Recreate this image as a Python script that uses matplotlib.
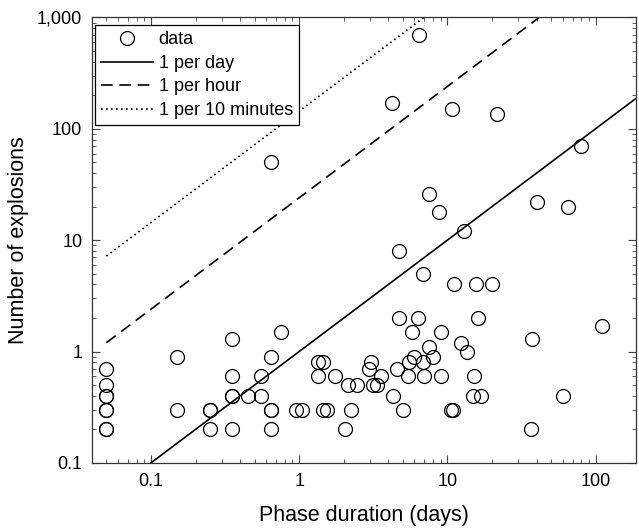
import matplotlib
matplotlib.use("Agg")
import matplotlib.pyplot as plt
import numpy as np
from matplotlib.ticker import FixedLocator, FixedFormatter, LogLocator, NullFormatter

plt.rcParams['font.family'] = ['Liberation Sans', 'DejaVu Sans']

# phase duration (days) and number of explosions
duration = [0.05, 0.05, 0.05, 0.05, 0.05, 0.05, 0.05, 0.05,
            0.15, 0.15,
            0.25, 0.25, 0.25,
            0.35, 0.35, 0.35, 0.35, 0.35,
            0.45,
            0.55, 0.55,
            0.65, 0.65, 0.65, 0.65, 0.65,
            0.75,
            0.95, 1.05,
            1.35, 1.45, 1.35, 1.75,
            1.45, 1.55,
            2.05,
            2.15, 2.45,
            2.25,
            3.05, 2.95,
            3.15, 3.35,
            3.55,
            4.3,
            4.55,
            5.05,
            4.75, 6.3,
            5.75,
            5.5, 5.95, 5.45,
            6.8, 7.0,
            7.55,
            8.05,
            9.0, 9.0,
            7.5, 8.8, 12.9, 4.7, 6.8,
            11.1, 15.6, 20.0,
            16.0,
            12.4, 13.5,
            15.2,
            14.8, 16.8,
            60.6,
            10.6, 11.0,
            36.7, 37.3,
            110,
            40.5, 65.5,
            6.4, 4.24, 10.7, 21.8, 80.4]
explosions = [0.7, 0.5, 0.4, 0.4, 0.3, 0.3, 0.2, 0.2,
              0.9, 0.3,
              0.3, 0.3, 0.2,
              1.3, 0.6, 0.4, 0.4, 0.2,
              0.4,
              0.6, 0.4,
              50, 0.9, 0.3, 0.3, 0.2,
              1.5,
              0.3, 0.3,
              0.8, 0.8, 0.6, 0.6,
              0.3, 0.3,
              0.2,
              0.5, 0.5,
              0.3,
              0.8, 0.7,
              0.5, 0.5,
              0.6,
              0.4,
              0.7,
              0.3,
              2, 2,
              1.5,
              0.8, 0.9, 0.6,
              0.8, 0.6,
              1.1,
              0.9,
              1.5, 0.6,
              26, 18, 12, 8, 5,
              4, 4, 4,
              2,
              1.2, 1.0,
              0.6,
              0.4, 0.4,
              0.4,
              0.3, 0.3,
              0.2, 1.3,
              1.7,
              22, 20,
              700, 170, 150, 135, 70]

# reference rates (explosions per day)
rate_labels = ['1 per day', '1 per hour', '1 per 10 minutes']
rates = [1, 24, 144]
rate_styles = ['-', (0, (7, 4)), (0, (1, 2))]
line_x = [0.05, 200]

x_ticks = [0.1, 1, 10, 100]
x_tick_labels = ['0.1', '1', '10', '100']
y_ticks = [0.1, 1, 10, 100, 1000]
y_tick_labels = ['0.1', '1', '10', '100', '1,000']

fig = plt.figure(figsize=(6.39, 5.29), dpi=100)
ax = fig.add_axes([0.144, 0.125, 0.851, 0.842])

ax.plot(duration, explosions, linestyle='none', marker='o', markersize=10,
        markerfacecolor='none', markeredgecolor='black', markeredgewidth=0.9,
        label='data')
for lab, r, ls in zip(rate_labels, rates, rate_styles):
    ax.plot(line_x, [r * v for v in line_x], color='black', linestyle=ls,
            linewidth=1.2, label=lab)

ax.set_xscale('log')
ax.set_yscale('log')
ax.set_xlim(0.04, 187)
ax.set_ylim(0.1, 1000)

ax.xaxis.set_major_locator(FixedLocator(x_ticks))
ax.xaxis.set_major_formatter(FixedFormatter(x_tick_labels))
ax.yaxis.set_major_locator(FixedLocator(y_ticks))
ax.yaxis.set_major_formatter(FixedFormatter(y_tick_labels))
ax.xaxis.set_minor_locator(LogLocator(base=10, subs=np.arange(2, 10)))
ax.yaxis.set_minor_locator(LogLocator(base=10, subs=np.arange(2, 10)))
ax.xaxis.set_minor_formatter(NullFormatter())
ax.yaxis.set_minor_formatter(NullFormatter())

ax.tick_params(which='both', direction='in', top=True, right=True, labelsize=13,
               color='#444444')
ax.tick_params(which='major', length=6, width=0.8, pad=7)
ax.tick_params(which='minor', length=3, width=0.6)
for s in ax.spines.values():
    s.set_linewidth(0.9)
    s.set_color('#333333')

ax.set_xlabel('Phase duration (days)', fontsize=15.5, labelpad=11)
ax.set_ylabel('Number of explosions', fontsize=15.5, labelpad=6)

leg = ax.legend(loc='upper left', bbox_to_anchor=(0.0055, 0.983),
                borderaxespad=0, fontsize=13, frameon=True, fancybox=False,
                edgecolor='black', framealpha=1,
                handlelength=2.85, handletextpad=0.33, labelspacing=0.36,
                borderpad=0.35)
leg.get_frame().set_linewidth(0.9)

fig.savefig('out.png', dpi=100)
